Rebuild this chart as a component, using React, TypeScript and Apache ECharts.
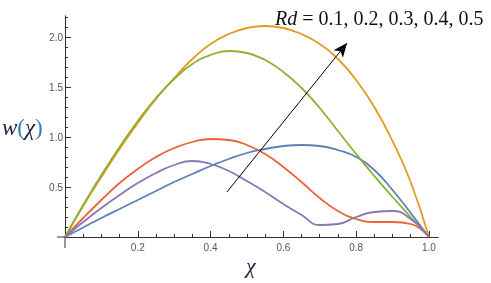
import React, { useEffect, useRef } from "react";
import * as echarts from "echarts";

const chi = [0, 0.05, 0.1, 0.15, 0.2, 0.25, 0.3, 0.35, 0.4, 0.45, 0.5, 0.55, 0.6, 0.65, 0.7, 0.75, 0.8, 0.85, 0.9, 0.95, 1.0];
const rd01 = [0, 0.095, 0.19, 0.28, 0.37, 0.46, 0.55, 0.63, 0.71, 0.78, 0.84, 0.88, 0.91, 0.92, 0.91, 0.87, 0.8, 0.67, 0.47, 0.24, 0];
const rd02 = [0, 0.31, 0.6, 0.88, 1.14, 1.38, 1.59, 1.78, 1.93, 2.03, 2.09, 2.11, 2.09, 2.03, 1.93, 1.78, 1.57, 1.3, 0.96, 0.55, 0];
const rd03 = [0, 0.32, 0.62, 0.9, 1.16, 1.39, 1.58, 1.73, 1.82, 1.86, 1.84, 1.77, 1.65, 1.49, 1.29, 1.06, 0.83, 0.61, 0.4, 0.2, 0];
const rd04 = [0, 0.19, 0.37, 0.54, 0.68, 0.8, 0.89, 0.95, 0.98, 0.97, 0.92, 0.83, 0.7, 0.55, 0.39, 0.26, 0.18, 0.15, 0.15, 0.13, 0];
const rd05 = [0, 0.15, 0.29, 0.42, 0.54, 0.64, 0.72, 0.76, 0.73, 0.66, 0.56, 0.45, 0.33, 0.22, 0.12, 0.13, 0.2, 0.25, 0.26, 0.18, 0];

const seriesNames = ["Rd = 0.1", "Rd = 0.2", "Rd = 0.3", "Rd = 0.4", "Rd = 0.5"];
const seriesValues = [rd01, rd02, rd03, rd04, rd05];
const seriesColors = ["#5E81B5", "#E19C24", "#8FB032", "#EB6235", "#8778B3"];

const xMajorTicks = [0.2, 0.4, 0.6, 0.8, 1.0];
const xMinorTicks = [0.05, 0.1, 0.15, 0.25, 0.3, 0.35, 0.45, 0.5, 0.55, 0.65, 0.7, 0.75, 0.85, 0.9, 0.95];
const yMajorTicks = [0.5, 1.0, 1.5, 2.0];
const yMinorTicks = [0.1, 0.2, 0.3, 0.4, 0.6, 0.7, 0.8, 0.9, 1.1, 1.2, 1.3, 1.4, 1.6, 1.7, 1.8, 1.9, 2.1, 2.2];

const arrowFrom = [0.445, 0.45];
const arrowTo = [0.775, 1.94];

export default function App() {
  const ref = useRef<HTMLDivElement>(null);
  useEffect(() => {
    if (!ref.current) return;
    const chart = echarts.init(ref.current, null, { renderer: "svg" });
    const axisColor = "#333";
    const labelStyle = { color: "#555", fontSize: 10, fontFamily: "Liberation Sans, Arial, sans-serif" };
    const xBase = {
      type: "value",
      min: 0,
      max: 1.025,
      position: "bottom",
      splitLine: { show: false },
      axisLine: { show: true, onZero: false, lineStyle: { color: axisColor, width: 1 } },
    };
    const yBase = {
      type: "value",
      min: 0,
      max: 2.21,
      position: "left",
      splitLine: { show: false },
      axisLine: { show: true, onZero: false, lineStyle: { color: axisColor, width: 1 } },
    };
    const series: any[] = seriesValues.map((vals, i) => ({
      name: seriesNames[i],
      type: "line",
      xAxisIndex: 0,
      yAxisIndex: 0,
      smooth: 0.5,
      showSymbol: false,
      symbol: "none",
      data: chi.map((x, j) => [x, vals[j]]),
      lineStyle: { color: seriesColors[i], width: 1.8 },
      itemStyle: { color: seriesColors[i] },
      z: 2,
    }));
    series[4].markLine = {
      silent: true,
      symbol: ["none", "arrow"],
      symbolSize: [9, 14],
      label: { show: false },
      lineStyle: { color: "#000", width: 1, type: "solid" },
      data: [[{ coord: arrowFrom }, { coord: arrowTo }]],
    };
    const textGraphics: any[] = [
      {
        type: "text",
        left: 275,
        top: 8,
        style: {
          text: "{i|Rd} = 0.1, 0.2, 0.3, 0.4, 0.5",
          font: "20px 'Liberation Serif', 'Times New Roman', serif",
          fill: "#111",
          rich: {
            i: { fontStyle: "italic", fontSize: 20, fontFamily: "Liberation Serif", fill: "#111" },
          },
        },
      },
      {
        type: "text",
        left: 2,
        top: 116,
        style: {
          text: "{v|w}{p|(}{v|χ}{p|)}",
          font: "italic 23px 'Liberation Serif', serif",
          rich: {
            v: { fontStyle: "italic", fontSize: 23, fontFamily: "Liberation Serif", fill: "#1c2540" },
            p: { fontSize: 23, fontFamily: "Liberation Serif", fill: "#3a78b8" },
          },
        },
      },
      {
        type: "text",
        left: 246,
        top: 254,
        style: {
          text: "χ",
          font: "italic 22px 'Liberation Serif', serif",
          fill: "#1c2540",
        },
      },
    ];
    chart.setOption({
      animation: false,
      grid: { left: 65, right: 53, top: 16, bottom: 46, containLabel: false },
      xAxis: [
        {
          ...xBase,
          axisTick: { show: true, inside: true, length: 3, customValues: xMinorTicks, lineStyle: { color: axisColor } },
          axisLabel: { show: false },
        },
        {
          ...xBase,
          axisTick: { show: true, inside: true, length: 6, customValues: xMajorTicks, lineStyle: { color: axisColor } },
          axisLabel: { show: true, margin: 5, customValues: xMajorTicks, formatter: (v: number) => v.toFixed(1), ...labelStyle },
        },
      ],
      yAxis: [
        {
          ...yBase,
          axisTick: { show: true, inside: true, length: 3, customValues: yMinorTicks, lineStyle: { color: axisColor } },
          axisLabel: { show: false },
        },
        {
          ...yBase,
          axisTick: { show: true, inside: true, length: 6, customValues: yMajorTicks, lineStyle: { color: axisColor } },
          axisLabel: { show: true, margin: 2, customValues: yMajorTicks, formatter: (v: number) => v.toFixed(1), ...labelStyle },
        },
      ],
      series,
      graphic: textGraphics,
    });
    const origin = chart.convertToPixel({ xAxisIndex: 0, yAxisIndex: 0 }, [0, 0]) as number[];
    if (origin && isFinite(origin[0])) {
      chart.setOption({
        graphic: [
          ...textGraphics,
          {
            type: "line",
            shape: { x1: origin[0] - 8, y1: origin[1], x2: origin[0], y2: origin[1] },
            style: { stroke: axisColor, lineWidth: 1 },
          },
          {
            type: "line",
            shape: { x1: origin[0], y1: origin[1], x2: origin[0], y2: origin[1] + 11 },
            style: { stroke: axisColor, lineWidth: 1 },
          },
        ],
      });
    }
    return () => chart.dispose();
  }, []);
  return <div ref={ref} style={{ position: "fixed", left: 0, top: 0, width: 491, height: 283 }} />;
}
